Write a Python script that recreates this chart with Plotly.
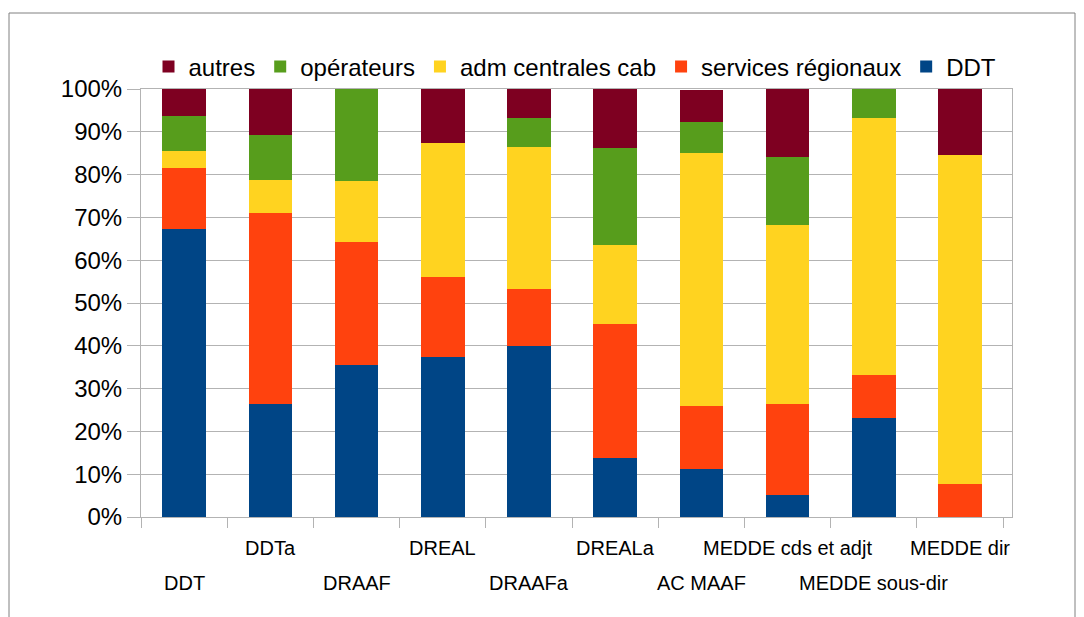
import plotly.graph_objects as go

categories = ["DDT", "DDTa", "DRAAF", "DREAL", "DRAAFa", "DREALa",
              "AC MAAF", "MEDDE cds et adjt", "MEDDE sous-dir", "MEDDE dir"]

# parts in % (stacked bottom -> top)
ddt = [67.2, 26.4, 35.4, 37.3, 39.9, 13.7, 11.2, 5.2, 23.2, 0]
services_regionaux = [14.3, 44.6, 28.8, 18.7, 13.3, 31.5, 14.7, 21.2, 9.9, 7.6]
adm_centrales = [4.0, 7.7, 14.3, 31.4, 33.2, 18.4, 59.1, 41.8, 60.1, 77.0]
operateurs = [8.2, 10.5, 21.5, 0, 6.8, 22.6, 7.3, 15.9, 6.8, 0]
autres = [6.3, 10.8, 0, 12.6, 6.8, 13.8, 7.5, 15.9, 0, 15.4]

series = [
    ("DDT", ddt, "#004586"),
    ("services régionaux", services_regionaux, "#ff420e"),
    ("adm centrales cab", adm_centrales, "#ffd320"),
    ("opérateurs", operateurs, "#579d1c"),
    ("autres", autres, "#7e0021"),
]

fig = go.Figure()
for name, vals, col in series:
    fig.add_trace(go.Bar(x=categories, y=[v / 100 for v in vals], name=name,
                         marker=dict(color=col, line=dict(width=0))))

grey = "#b3b3b3"
fig.update_layout(
    barmode="stack",
    bargap=0.495,
    width=1084, height=617,
    margin=dict(l=141, r=72, t=89, b=100, autoexpand=False),
    paper_bgcolor="white", plot_bgcolor="white",
    font=dict(family="Liberation Sans", color="black"),
    showlegend=True,
    legend=dict(orientation="h", traceorder="reversed",
                xref="container", x=575 / 1084, xanchor="center",
                yref="container", y=1 - 67 / 617, yanchor="middle",
                font=dict(size=24), bgcolor="rgba(0,0,0,0)",
                itemwidth=30, tracegroupgap=0),
)
fig.update_yaxes(range=[0, 1], tickformat=".0%", dtick=0.1,
                 showgrid=True, gridcolor=grey, gridwidth=1,
                 showline=True, linecolor=grey, mirror=True,
                 ticks="outside", ticklen=13, tickcolor=grey,
                 tickfont=dict(size=24), zeroline=False)
fig.update_xaxes(showticklabels=False, tickson="boundaries",
                 ticks="outside", ticklen=10, tickcolor=grey,
                 showline=True, linecolor=grey, mirror=True, showgrid=False)

# staggered category labels
for i, c in enumerate(categories):
    fig.add_annotation(x=c, xref="x", yref="paper",
                       y=-0.154 if i % 2 == 0 else -0.0724,
                       yanchor="middle", text=c, showarrow=False,
                       font=dict(size=20))

# outer frame
fig.add_shape(type="rect", xref="paper", yref="paper",
              x0=(9 - 141) / 871, x1=(1075 - 141) / 871,
              y0=-0.4, y1=1 + (89 - 13) / 428,
              line=dict(color="#808080", width=1))

fig.write_html("out.html", config={"displayModeBar": False},
               post_script="document.body.style.margin='0';")
